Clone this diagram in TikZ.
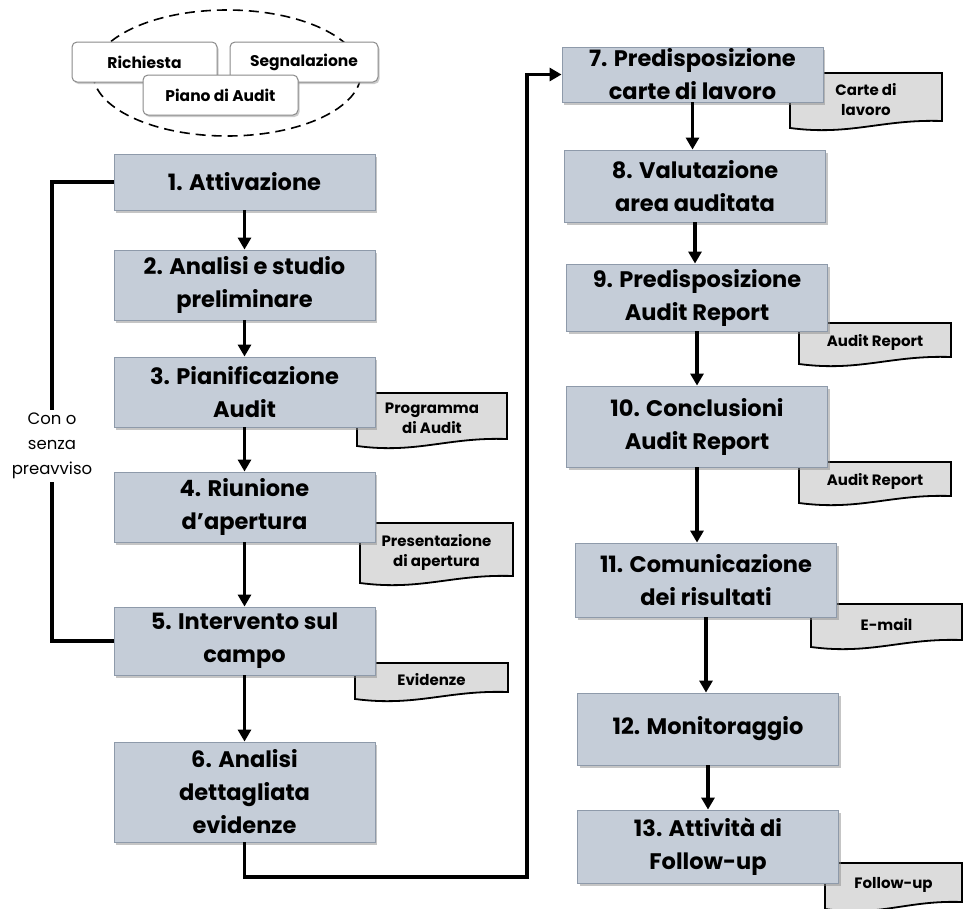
\documentclass[tikz,border=0pt]{standalone}
\usepackage{fontspec}
\setmainfont{Poppins}
\usetikzlibrary{arrows.meta,shadows,shapes.geometric}
\definecolor{stepfill}{HTML}{C5CDD8}
\definecolor{stepedge}{HTML}{8E9AAA}
\definecolor{docfill}{HTML}{DCDCDC}
\definecolor{sourceedge}{HTML}{8A8A8A}

% document symbol: straight top and sides, wavy bottom edge
\newcommand\tapedoc[6]{%
  \filldraw[docshape] (#2,#3) -- (#4,#3) -- (#4,#5-11)
    .. controls ({#4-0.4*(#4-#2)},#5-13) and ({#2+0.4*(#4-#2)},#5+4) .. (#2,#5-4) -- cycle;
  \node[doctext] (#1) at ({(#2+#4)/2},{(#3+#5)/2-3}) {#6};}

\begin{document}
\begin{tikzpicture}[x=1pt,y=-1pt,
  stepbox/.style={rectangle, fill=stepfill, draw=stepedge, line width=0.9pt,
    align=center, inner sep=0pt, font=\bfseries\fontsize{22.5}{33}\selectfont,
    drop shadow={shadow xshift=2pt, shadow yshift=-3pt, fill=black!45}},
  srcbox/.style={rectangle, rounded corners=5pt, fill=white, draw=sourceedge,
    line width=1pt, inner sep=0pt, font=\bfseries\fontsize{15.5}{17}\selectfont,
    drop shadow={shadow xshift=1.5pt, shadow yshift=-2pt, fill=black!40}},
  docshape/.style={fill=docfill, draw=black, line width=1.8pt},
  doctext/.style={align=center, inner sep=0pt, font=\bfseries\fontsize{15}{20}\selectfont},
  flow/.style={line width=3.6pt, -{Triangle[length=12pt,width=13pt]}},
  link/.style={line width=3.6pt},
  note/.style={align=center, inner sep=3pt, font=\fontsize{16.5}{25}\selectfont}
]
\useasboundingbox (0,0) rectangle (966,908);

% sources of the audit
\node[ellipse, draw, dashed, dash pattern=on 10pt off 6pt, line width=1.6pt,
  minimum width=268pt, minimum height=126pt] (pool) at (227,73) {};
\node[srcbox, minimum width=145pt, minimum height=40pt] (req) at (144.5,62) {Richiesta};
\node[srcbox, minimum width=148pt, minimum height=40pt] (sig) at (304,62) {Segnalazione};
\node[srcbox, minimum width=155pt, minimum height=40pt] (plan) at (220.5,95) {Piano di Audit};

% documents produced along the way
\tapedoc{d3}{357}{393}{507}{450}{Programma\\di Audit}
\tapedoc{d4}{360}{523}{513}{587}{Presentazione\\di apertura}
\tapedoc{d5}{355}{663}{508}{703}{Evidenze}
\tapedoc{d7}{790}{73}{942}{132}{Carte di\\lavoro}
\tapedoc{d9}{799}{323}{951}{368}{Audit Report}
\tapedoc{d10}{799}{462}{951}{507}{Audit Report}
\tapedoc{d11}{811}{604}{962}{651}{E-mail}
\tapedoc{d13}{825}{863}{962}{913}{Follow-up}

% process steps, left column
\node[stepbox, minimum width=261pt, minimum height=56pt] (b1) at (244.5,182) {1. Attivazione};
\node[stepbox, minimum width=261pt, minimum height=70pt] (b2) at (244.5,285) {2. Analisi e studio\\preliminare};
\node[stepbox, minimum width=261pt, minimum height=70pt] (b3) at (244.5,392) {3. Pianificazione\\Audit};
\node[stepbox, minimum width=261pt, minimum height=70pt] (b4) at (244.5,507) {4. Riunione\\d’apertura};
\node[stepbox, minimum width=261pt, minimum height=68pt] (b5) at (244.5,641) {5. Intervento sul\\campo};
\node[stepbox, minimum width=261pt, minimum height=100pt] (b6) at (244.5,792) {6. Analisi\\dettagliata\\evidenze};

% process steps, right column
\node[stepbox, minimum width=261pt, minimum height=55pt] (b7) at (692.5,74.5) {7. Predisposizione\\carte di lavoro};
\node[stepbox, minimum width=261pt, minimum height=72pt] (b8) at (695,186) {8. Valutazione\\area auditata};
\node[stepbox, minimum width=261pt, minimum height=67pt] (b9) at (697,297.5) {9. Predisposizione\\Audit Report};
\node[stepbox, minimum width=261pt, minimum height=81pt] (b10) at (697,426.5) {10. Conclusioni\\Audit Report};
\node[stepbox, minimum width=261pt, minimum height=74pt] (b11) at (706,580) {11. Comunicazione\\dei risultati};
\node[stepbox, minimum width=261pt, minimum height=72pt] (b12) at (708,729) {12. Monitoraggio};
\node[stepbox, minimum width=261pt, minimum height=73pt] (b13) at (708,846.5) {13. Attività di\\Follow-up};

% side path from activation to field work
\node[note] (skip) at (52,446) {Con o\\senza\\preavviso};
\draw[link] (b1.west) -| (skip.north);
\draw[link] (skip.south) |- (b5.west);

% main flow
\draw[flow] (b1.south) -- (b2.north);
\draw[flow] (b2.south) -- (b3.north);
\draw[flow] (b3.south) -- (b4.north);
\draw[flow] (b4.south) -- (b5.north);
\draw[flow] (b5.south) -- (b6.north);
\coordinate (turn) at (527,877);
\draw[flow] (b6.south) |- (turn) |- (b7.west);
\draw[flow] (b7.south) -- (b7.south |- b8.north);
\draw[flow] (b8.south) -- (b8.south |- b9.north);
\draw[flow] (b9.south) -- (b9.south |- b10.north);
\draw[flow] (b10.south) -- (b10.south |- b11.north);
\draw[flow] (b11.south) -- (b11.south |- b12.north);
\draw[flow] (b12.south) -- (b12.south |- b13.north);
\end{tikzpicture}
\end{document}
